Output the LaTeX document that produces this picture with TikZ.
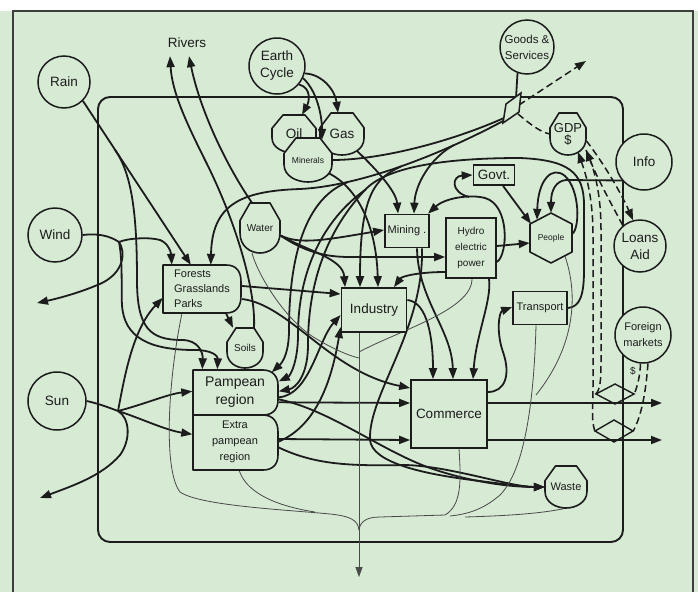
\documentclass[tikz,border=0pt]{standalone}
\usepackage{fontspec}
\setmainfont{Liberation Sans}
\usetikzlibrary{arrows.meta}
\definecolor{panel}{RGB}{214,234,212}
\definecolor{ink}{RGB}{28,28,28}
\pgfdeclarelayer{flows}
\pgfdeclarelayer{shapes}
\pgfsetlayers{flows,shapes,main}
\newcommand\fontL{\fontsize{13.5}{17}\selectfont}
\newcommand\fontM{\fontsize{11}{16}\selectfont}
\newcommand\fontS{\fontsize{10}{12}\selectfont}
\newcommand\fontT{\fontsize{8.5}{10}\selectfont}
% storage tank outline around a node centre: #1 node, #2 half width, #3 half height
\newcommand\tankat[3]{%
  \begin{scope}[shift={(#1.center)}]
    \draw[outline] (-#2,-0.3*#3) -- (-0.5*#2,-#3) -- (0.5*#2,-#3) -- (#2,-0.3*#3)
      -- (#2,0.2*#3) .. controls (#2,0.75*#3) and (0.45*#2,#3) .. (0,#3)
      .. controls (-0.45*#2,#3) and (-#2,0.75*#3) .. (-#2,0.2*#3) -- cycle;
  \end{scope}}
\begin{document}
\begin{tikzpicture}[x=1pt,y=-1pt,
  >={Triangle[length=11pt,width=8pt]},
  pipe/.style={draw=ink,line width=1.8pt},
  flow/.style={pipe,->},
  heat/.style={draw=ink!80,line width=0.8pt},
  money/.style={draw=ink,line width=1.5pt,dash pattern=on 7pt off 4pt},
  moneyflow/.style={money,->},
  outline/.style={draw=ink,line width=1.6pt,fill=panel,line join=round},
  src/.style={circle,draw=ink,line width=1.5pt,fill=panel,align=center,inner sep=0pt,text=ink},
  box/.style={rectangle,draw=ink,line width=1.7pt,fill=panel,align=center,inner sep=0pt,text=ink},
  holder/.style={rectangle,align=center,inner sep=0pt,text=ink},
  txt/.style={inner sep=0pt,text=ink}]
\useasboundingbox (0,0) rectangle (698,592);

% ---------- sources outside the system ----------
\node[src,minimum size=52pt,font=\fontL] (rain) at (64,82) {Rain};
\node[src,minimum size=54pt,font=\fontL] (wind) at (55,235) {Wind};
\node[src,minimum size=58pt,font=\fontL] (sun) at (57,401) {Sun};
\node[src,minimum size=56pt,font=\fontL] (earth) at (277,66) {Earth\\Cycle};
\node[src,minimum size=54pt,font=\fontsize{11.5}{16}\selectfont] (goods) at (527,47) {Goods \&\\Services};
\node[src,minimum size=56pt,font=\fontL] (info) at (644,162) {Info};
\node[src,minimum size=52pt,font=\fontL] (loans) at (640,246) {Loans\\Aid};
\node[src,minimum size=56pt,font=\fontM] (foreign) at (643,335) {Foreign\\markets};
\node[txt,font=\fontL] (rivers) at (187,43) {Rivers};
\node[txt,font=\fontS] (dollar) at (633,371) {\$};

% ---------- boxes ----------
\node[box,minimum width=41pt,minimum height=20pt,font=\fontL] (govt) at (494,175) {Govt.};
\node[box,minimum width=44pt,minimum height=33pt,font=\fontM] (mining) at (407,231) {Mining .};
\node[box,minimum width=50pt,minimum height=60pt,font=\fontsize{10}{16}\selectfont] (hydro) at (471,248) {Hydro\\electric\\power};
\node[box,minimum width=54pt,minimum height=33pt,font=\fontM] (transport) at (540,308) {Transport};
\node[box,minimum width=65pt,minimum height=44pt,font=\fontL] (industry) at (374,310) {Industry};
\node[box,minimum width=76pt,minimum height=68pt,font=\fontL] (commerce) at (449,414) {Commerce};

% ---------- producers, tanks, consumer and transactions ----------
\node[holder,minimum width=78pt,minimum height=48pt,align=left,font=\fontsize{11}{15}\selectfont] (forests) at (202,289) {Forests\\Grasslands\\Parks};
\node[holder,minimum width=85pt,minimum height=45pt,font=\fontsize{14}{18}\selectfont] (pampean) at (235,392) {Pampean\\region};
\node[holder,minimum width=85pt,minimum height=55pt,font=\fontsize{11}{16}\selectfont] (extrap) at (235,442) {Extra\\pampean\\region};
\node[holder,minimum width=44pt,minimum height=38pt,font=\fontL] (oil) at (294,134) {Oil};
\node[holder,minimum width=44pt,minimum height=42pt,font=\fontL] (gas) at (342,134) {Gas};
\node[holder,minimum width=48pt,minimum height=44pt,font=\fontT] (minerals) at (308,160) {Minerals};
\node[holder,minimum width=40pt,minimum height=50pt,font=\fontS] (water) at (260,228) {Water};
\node[holder,minimum width=36pt,minimum height=40pt,font=\fontS] (soils) at (245,348) {Soils};
\node[holder,minimum width=42pt,minimum height=42pt,font=\fontM] (waste) at (566,487) {Waste};
\node[holder,minimum width=36pt,minimum height=42pt,font=\fontsize{13}{12}\selectfont] (gdp) at (568,134) {GDP\\\$};
\node[holder,minimum width=42pt,minimum height=50pt,font=\fontT] (people) at (551,238) {People};
\node[holder,minimum width=18pt,minimum height=30pt] (para) at (512,108) {};
\node[holder,minimum width=38pt,minimum height=20pt] (dia1) at (615,394) {};
\node[holder,minimum width=38pt,minimum height=22pt] (dia2) at (614,431) {};

\begin{pgfonlayer}{shapes}
  \draw[outline] (163,265) -- (226,265) .. controls (237,265) and (241,272) .. (241,282) -- (241,296)
    .. controls (241,307) and (236,313) .. (226,313) -- (163,313) -- cycle;
  \draw[outline] (193,370) -- (263,370) .. controls (273,370) and (278,377) .. (278,385) -- (278,400)
    .. controls (278,410) and (272,415) .. (263,415) -- (193,415) -- cycle;
  \draw[outline] (193,415) -- (263,415) .. controls (273,415) and (278,422) .. (278,432) -- (278,455)
    .. controls (278,465) and (272,470) .. (263,470) -- (193,470) -- cycle;
  \tankat{oil}{22}{19}
  \tankat{gas}{22}{21}
  \tankat{minerals}{24}{22}
  \tankat{water}{20}{25}
  \tankat{soils}{18}{20}
  \tankat{waste}{21}{21}
  \tankat{gdp}{18}{21}
  \begin{scope}[shift={(people.center)}]
    \draw[outline] (0,-25) -- (21,-14) -- (21,14) -- (0,25) -- (-21,14) -- (-21,-14) -- cycle;
  \end{scope}
  \begin{scope}[shift={(para.center)}]
    \draw[draw=ink,line width=1.5pt,fill=panel] (-9,15) -- (-6,-4) -- (9,-15) -- (7,4) -- cycle;
  \end{scope}
  \begin{scope}[shift={(dia1.center)}]
    \draw[draw=ink,line width=1.4pt] (-19,0) -- (0,-10) -- (19,0) -- (0,10) -- cycle;
  \end{scope}
  \begin{scope}[shift={(dia2.center)}]
    \draw[draw=ink,line width=1.4pt] (-19,0) -- (0,-11) -- (19,0) -- (0,11) -- cycle;
  \end{scope}
\end{pgfonlayer}

\begin{pgfonlayer}{flows}
  % panel, frame and system boundary
  \fill[panel] (0,11) rectangle (698,592);
  \fill[white] (0,0) rectangle (698,11);
  \draw[draw=ink!85,line width=1.2pt] (13,592) -- (13,11) -- (693,11) -- (693,592);
  \draw[draw=ink,line width=1.9pt,rounded corners=12pt] (98,97) rectangle (623,542);

  % junctions and free ends
  \coordinate (rainsplit) at (115,150);
  \coordinate (windsplit) at (119,242);
  \coordinate (windout) at (37,303);
  \coordinate (sunsplit) at (118,411);
  \coordinate (sunout) at (40,498);
  \coordinate (goodsout) at (586,61);
  \coordinate (exp1) at (662,403);
  \coordinate (exp2) at (662,440);
  \coordinate (sinkj) at (359,530);
  \coordinate (sinkout) at (359,577);
  \coordinate (hloop) at (469,197);
  \coordinate (bmine) at (454,145);
  \coordinate (bind) at (401,166.5);
  \coordinate (bpamp) at (348,182);
  \coordinate (tsplit) at (365,190);

  % rain
  \draw[flow] (rain.-45) -- ([xshift=28pt]forests.north west);
  \draw[flow] (rainsplit) .. controls (133,175) and (137,220) .. (137,280)
    .. controls (137,328) and (150,340) .. (182,340) .. controls (198,340) and (203,352) .. ([xshift=10pt]pampean.north west);
  % wind
  \draw[pipe] (wind.east) .. controls (98,233) and (110,236) .. (windsplit);
  \draw[flow] (windsplit) .. controls (128,238) and (150,237) .. (160,240)
    .. controls (168,243) and (171,252) .. ([xshift=9pt]forests.north west);
  \draw[flow] (windsplit) .. controls (126,252) and (124,272) .. (102,283) .. controls (82,292) and (60,298) .. (windout);
  \draw[flow] (windsplit) .. controls (123,262) and (121,290) .. (122,305)
    .. controls (124,338) and (150,350) .. (195,350) .. controls (212,350) and (218,356) .. ([xshift=25pt]pampean.north west);
  % sun
  \draw[pipe] (sun.east) .. controls (100,404) and (110,408) .. (sunsplit);
  \draw[flow] (sunsplit) .. controls (145,404) and (168,394) .. ([yshift=-22pt]pampean.north west);
  \draw[flow] (sunsplit) .. controls (140,418) and (165,430) .. ([yshift=-20pt]extrap.north west);
  \draw[flow] (sunsplit) .. controls (130,418) and (131,440) .. (120,455) .. controls (102,476) and (72,486) .. (sunout);
  \draw[flow] (sunsplit) .. controls (124,380) and (132,330) .. ([yshift=-33pt]forests.north west);

  % rivers
  \draw[flow] ([xshift=9pt]soils.north) .. controls (256,290) and (236,222) .. (206,162)
    .. controls (186,122) and (172,92) .. ([xshift=-17pt,yshift=-8pt]rivers.south);
  \draw[flow] ([xshift=-8pt]water.north) .. controls (226,165) and (200,110) .. ([xshift=2pt,yshift=-8pt]rivers.south);

  % water
  \draw[flow] (water.-20) .. controls (300,245) and (325,240) .. ([yshift=1pt]mining.west);
  \draw[flow] (water.-20) .. controls (305,252) and (325,257) .. (350,257) -- ([yshift=-9pt]hydro.west);
  \draw[flow] (water.-20) .. controls (305,250) and (343,258) .. ([xshift=-29pt]industry.north);

  % forests
  \draw[flow] ([xshift=1pt,yshift=3pt]forests.east) -- ([yshift=16pt]industry.west);
  \draw[flow] ([xshift=1pt,yshift=-10pt]forests.east) .. controls (290,305) and (330,372) .. ([yshift=26pt]commerce.west);
  \draw[flow] ([xshift=24pt]forests.south) -- ([xshift=-12pt]soils.north);

  % earth cycle
  \draw[flow] (earth.-40) .. controls (312,88) and (309,102) .. ([xshift=8pt]oil.north);
  \draw[flow] (earth.-15) .. controls (322,74) and (335,90) .. ([xshift=-4pt]gas.north);
  \draw[flow] ([xshift=14pt,yshift=-16pt]gas.center) .. controls (372,165) and (396,190) .. ([xshift=-9pt]mining.north);

  % goods and services line with its branches
  \draw[pipe] (minerals.east) .. controls (380,160) and (450,142) .. ([xshift=-8pt,yshift=-10pt]para.center);
  \draw[pipe] (goods.250) -- ([xshift=4pt,yshift=10pt]para.center);
  \draw[flow] ([xshift=-7pt,yshift=-12pt]para.center) .. controls (440,155) and (360,186) .. (300,189)
    .. controls (240,191) and (212,205) .. ([xshift=48pt]forests.north west);
  \draw[flow] (bmine) .. controls (430,158) and (415,185) .. ([xshift=7pt]mining.north);
  \draw[flow] (bind) .. controls (375,178) and (360,195) .. ([xshift=-14pt]industry.north);
  \draw[flow] (bpamp) .. controls (300,200) and (289,270) .. (289,330)
    .. controls (289,352) and (283,362) .. ([xshift=-6pt,yshift=-3pt]pampean.north east);
  \draw[flow] ([xshift=18pt,yshift=-12pt]minerals.center) .. controls (350,182) and (376,215) .. ([xshift=4pt]industry.north);

  % transport feedback over the top
  \draw[flow] (transport.east) .. controls (580,307) and (584,295) .. (584,270) -- (584,205)
    .. controls (584,172) and (568,160) .. (520,158) .. controls (440,158) and (385,168) .. (tsplit)
    .. controls (335,222) and (308,270) .. (308,345) .. controls (308,375) and (296,388) .. ([xshift=1pt,yshift=-22pt]pampean.north east);
  \draw[flow] (tsplit) .. controls (330,215) and (298,262) .. (298,335)
    .. controls (298,362) and (290,376) .. ([xshift=1pt,yshift=-12pt]pampean.north east);

  % people, government, information
  \draw[flow] ([yshift=4pt]people.east) .. controls (580,228) and (580,190) .. (565,176)
    .. controls (552,165) and (538,180) .. ([xshift=-14pt,yshift=-7pt]people.north);
  \draw[flow] (info.220) -- (566,180) .. controls (556,181) and (551,190) .. (people.north);
  \draw[flow] ([xshift=9pt]govt.south) -- ([xshift=-20pt,yshift=-11pt]people.north);
  \draw[flow] ([yshift=2pt]hydro.east) -- ([yshift=-5pt]people.west);
  \draw[flow] ([yshift=-14pt]hydro.east) .. controls (508,255) and (510,205) .. (485,198)
    .. controls (470,194) and (445,198) .. ([xshift=21pt]mining.north);
  \draw[flow] (hloop) .. controls (450,192) and (452,176) .. (govt.west);
  \draw[flow] ([yshift=-24pt]hydro.west) .. controls (420,272) and (402,276) .. ([xshift=20pt]industry.north);

  % into commerce
  \draw[flow] ([xshift=10pt]mining.south) .. controls (418,300) and (452,330) .. ([xshift=4pt]commerce.north);
  \draw[flow] ([yshift=10pt]industry.east) .. controls (428,302) and (433,340) .. ([xshift=-16pt]commerce.north);
  \draw[flow] ([xshift=18pt]hydro.south) .. controls (492,300) and (476,335) .. ([xshift=24pt]commerce.north);
  \draw[flow] ([xshift=1pt,yshift=-33pt]pampean.north east) -- ([yshift=11pt]commerce.west);
  \draw[flow] ([yshift=3pt]extrap.east) -- ([yshift=-26pt]commerce.west);
  \draw[flow] ([yshift=22pt]commerce.east) .. controls (505,392) and (511,375) .. (503,352)
    .. controls (496,332) and (499,312) .. ([yshift=1pt]transport.west);
  \draw[flow] ([yshift=11pt]commerce.east) -- (exp1);
  \draw[flow] ([yshift=-26pt]commerce.east) -- (exp2);

  % regions into industry
  \draw[flow] ([xshift=1pt,yshift=-28pt]pampean.north east) .. controls (310,395) and (318,340) .. ([yshift=-5pt]industry.west);
  \draw[flow] (extrap.east) .. controls (320,425) and (333,372) .. ([yshift=-17pt]industry.west);

  % waste
  \draw[flow] ([xshift=1pt,yshift=-30pt]pampean.north east) .. controls (330,410) and (380,450) .. (430,468)
    .. controls (470,482) and (510,487) .. (waste.west);
  \draw[flow] ([yshift=-5pt]extrap.east) .. controls (315,465) and (350,466) .. (405,465)
    .. controls (450,466) and (510,487) .. (waste.west);
  \draw[flow] ([xshift=15pt]mining.south) .. controls (424,330) and (368,395) .. (370,440)
    .. controls (372,462) and (420,474) .. (480,481) .. controls (510,485) and (530,487) .. (waste.west);

  % money
  \draw[moneyflow] ([xshift=7pt,yshift=3pt]para.center) -- (goodsout);
  \draw[money] ([xshift=6pt,yshift=-6pt]para.center) .. controls (530,124) and (540,132) .. (gdp.west);
  \draw[moneyflow] (gdp.-20) .. controls (605,165) and (622,195) .. (loans.105);
  \draw[moneyflow] (loans.130) .. controls (612,205) and (598,180) .. ([xshift=18pt,yshift=-16pt]gdp.center);
  \draw[moneyflow] (dia2.west) .. controls (591,420) and (593,405) .. (593,385) -- (593,235)
    .. controls (593,195) and (585,172) .. ([xshift=10pt,yshift=-18pt]gdp.center);
  \draw[money] (dia1.west) .. controls (600,390) and (601,380) .. (601,365) -- (601,230)
    .. controls (601,190) and (593,165) .. ([xshift=18pt,yshift=-16pt]gdp.center);
  \draw[money] (foreign.265) .. controls (640,375) and (638,385) .. (dia1.east);
  \draw[money] (foreign.280) .. controls (646,390) and (642,415) .. (dia2.east);

  % heat sink
  \draw[heat,-{Triangle[length=10pt,width=7pt]}] ([xshift=-15pt]industry.south) -- (sinkout);
  \draw[heat] ([xshift=-20pt]forests.south) .. controls (168,380) and (163,470) .. (180,492)
    .. controls (200,506) and (290,510) .. (330,514) .. controls (350,516) and (358,520) .. (sinkj);
  \draw[heat] ([xshift=4pt]extrap.south) .. controls (245,490) and (270,505) .. (315,512);
  \draw[heat] ([xshift=10pt]commerce.south) .. controls (461,480) and (462,505) .. (445,515) -- (380,517)
    .. controls (366,517) and (360,522) .. (sinkj);
  \draw[heat] ([xshift=-4pt]transport.south) .. controls (534,400) and (525,470) .. (500,495)
    .. controls (485,508) and (470,514) .. (450,516);
  \draw[heat] (waste.south) .. controls (540,514) and (500,516) .. (465,517);
  \draw[heat] ([xshift=14pt,yshift=7pt]people.south) .. controls (580,300) and (572,350) .. (536,395);
  \draw[heat] ([xshift=1pt]hydro.south) .. controls (472,310) and (400,330) .. (359,352);
  \draw[heat] ([xshift=-8pt]water.south) .. controls (258,275) and (285,320) .. (315,338)
    .. controls (335,350) and (350,356) .. (359,358);
\end{pgfonlayer}

% earth cycle feeding minerals, drawn over the oil and gas tanks
\draw[flow] (earth.-25) .. controls (318,92) and (322,118) .. ([xshift=14pt,yshift=-2pt]minerals.north);
\end{tikzpicture}
\end{document}
